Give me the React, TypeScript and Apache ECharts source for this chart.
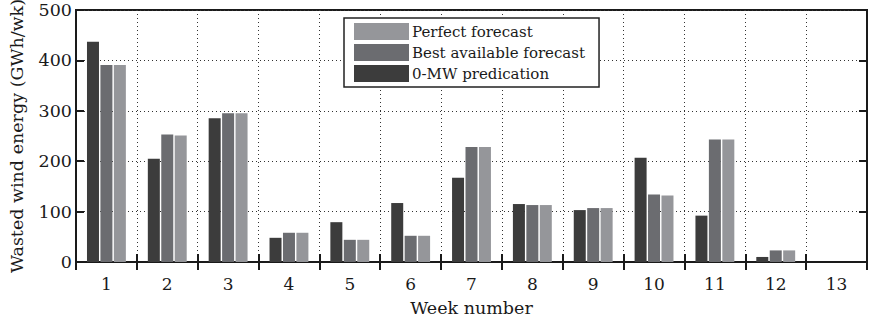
import React, { useEffect, useRef } from "react";
import * as echarts from "echarts";

const weeks = ["1", "2", "3", "4", "5", "6", "7", "8", "9", "10", "11", "12", "13"];
const zeroMW = [437, 205, 285, 48, 79, 117, 167, 115, 103, 207, 92, 10, 0];
const bestAvailable = [391, 253, 295, 58, 44, 52, 228, 113, 107, 134, 243, 23, 0];
const perfect = [391, 251, 295, 58, 44, 52, 228, 113, 107, 132, 243, 23, 0];
const yTicks = [0, 100, 200, 300, 400, 500];

const FONT = "DejaVu Serif";

export default function App() {
  const ref = useRef<HTMLDivElement>(null);
  useEffect(() => {
    if (!ref.current) return;
    const chart = echarts.init(ref.current, null, { renderer: "svg" });
    const tickStyle = { show: true, inside: true, length: 8, lineStyle: { color: "#1a1a1a", width: 2 } };
    chart.setOption({
      animation: false,
      backgroundColor: "#ffffff",
      grid: {
        left: 72,
        right: 2,
        top: 10,
        bottom: 51,
        show: true,
        borderColor: "#1a1a1a",
        borderWidth: 2,
      },
      legend: {
        orient: "vertical",
        left: 344,
        top: 18,
        data: ["Perfect forecast", "Best available forecast", "0-MW predication"],
        icon: "rect",
        itemWidth: 55,
        itemHeight: 17,
        itemGap: 4,
        padding: [5, 14, 5, 10],
        borderColor: "#222",
        borderWidth: 1.5,
        backgroundColor: "#ffffff",
        textStyle: { fontFamily: FONT, fontSize: 15, color: "#1a1a1a", padding: [0, 0, 0, -2] },
      },
      xAxis: [
        {
          type: "category",
          data: weeks,
          boundaryGap: true,
          name: "Week number",
          nameLocation: "middle",
          nameGap: 37,
          nameTextStyle: { fontFamily: FONT, fontSize: 17.5, color: "#1a1a1a" },
          axisLine: { show: true, lineStyle: { color: "#1a1a1a", width: 2 } },
          axisTick: { ...tickStyle, alignWithLabel: false },
          axisLabel: { fontFamily: FONT, fontSize: 17, color: "#1a1a1a", margin: 13 },
          splitLine: { show: true, lineStyle: { color: "#333", type: [1, 3], width: 1 } },
        },
        {
          type: "category",
          data: weeks,
          position: "top",
          boundaryGap: true,
          axisLine: { show: true, lineStyle: { color: "#1a1a1a", width: 2 } },
          axisTick: tickStyle,
          axisLabel: { show: false },
          splitLine: { show: false },
        },
      ],
      yAxis: [
        {
          type: "value",
          min: 0,
          max: 500,
          interval: 100,
          name: "Wasted wind energy (GWh/wk)",
          nameLocation: "middle",
          nameGap: 50,
          nameTextStyle: { fontFamily: FONT, fontSize: 17.5, color: "#1a1a1a" },
          axisLine: { show: true, lineStyle: { color: "#1a1a1a", width: 2 } },
          axisTick: tickStyle,
          axisLabel: {
            fontFamily: FONT,
            fontSize: 17.5,
            color: "#1a1a1a",
            margin: 4,
            formatter: (v: number) => (yTicks.includes(v) ? String(v) : ""),
          },
          splitLine: { show: true, lineStyle: { color: "#333", type: [1, 3], width: 1 } },
        },
        {
          type: "value",
          min: 0,
          max: 500,
          interval: 100,
          position: "right",
          axisLine: { show: true, lineStyle: { color: "#1a1a1a", width: 2 } },
          axisTick: tickStyle,
          axisLabel: { show: false },
          splitLine: { show: false },
        },
      ],
      series: [
        {
          name: "0-MW predication",
          type: "bar",
          data: zeroMW,
          barWidth: 12,
          barGap: "12%",
          itemStyle: { color: "#3c3c3c" },
        },
        {
          name: "Best available forecast",
          type: "bar",
          data: bestAvailable,
          barWidth: 12,
          barGap: "12%",
          itemStyle: { color: "#6b6c70" },
        },
        {
          name: "Perfect forecast",
          type: "bar",
          data: perfect,
          barWidth: 12,
          barGap: "12%",
          itemStyle: { color: "#95969a" },
        },
      ],
    });
    return () => chart.dispose();
  }, []);
  return (
    <div
      ref={ref}
      style={{ position: "fixed", left: 0, top: 0, width: 869, height: 322 }}
    />
  );
}
